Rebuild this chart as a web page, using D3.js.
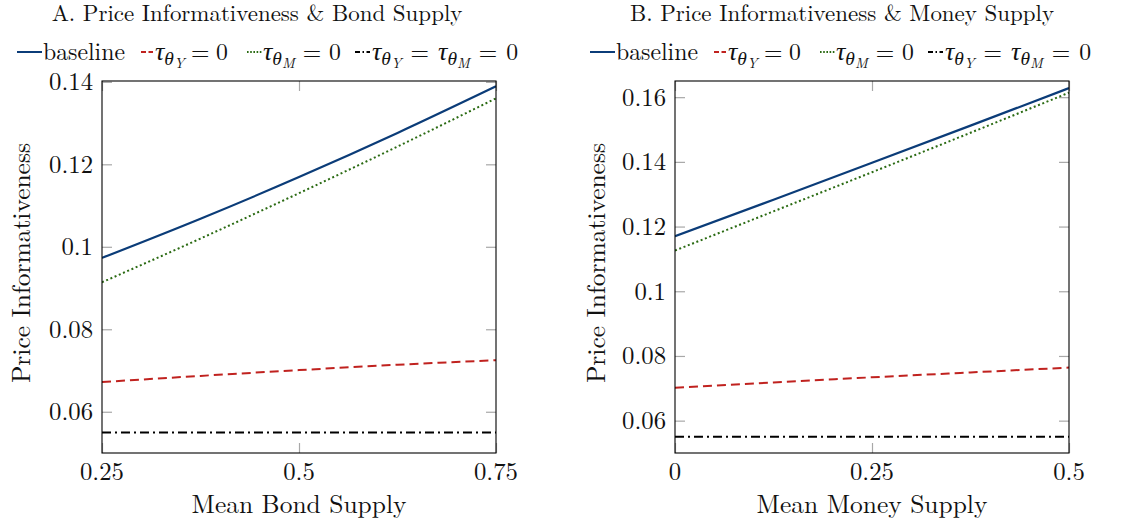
<!DOCTYPE html>
<html>
<head>
<meta charset="utf-8">
<script src="https://cdn.jsdelivr.net/npm/d3@7"></script>
<style>
  html, body { margin: 0; padding: 0; background: #fff; }
</style>
</head>
<body>
<svg id="chart" width="1128" height="524"></svg>
<script>
// ---- Panel A: price informativeness vs mean bond supply ----
const bondSupply      = [0.25, 0.375, 0.5, 0.625, 0.75];
const bondBaseline    = [0.0973, 0.1068, 0.1169, 0.1276, 0.1389];
const bondNoTauY      = [0.0672, 0.0687, 0.0701, 0.0714, 0.0725];
const bondNoTauM      = [0.0914, 0.1020, 0.1130, 0.1243, 0.1360];
const bondNoBoth      = [0.0550, 0.0550, 0.0550, 0.0550, 0.0550];
const bondXTicks      = [0.25, 0.5, 0.75];
const bondXTickLabels = ["0.25", "0.5", "0.75"];
const bondYTicks      = [0.06, 0.08, 0.10, 0.12, 0.14];
const bondYTickLabels = ["0.06", "0.08", "0.1", "0.12", "0.14"];

// ---- Panel B: price informativeness vs mean money supply ----
const moneySupply      = [0, 0.125, 0.25, 0.375, 0.5];
const moneyBaseline    = [0.1170, 0.1283, 0.1397, 0.1512, 0.1628];
const moneyNoTauY      = [0.0702, 0.0718, 0.0734, 0.0749, 0.0764];
const moneyNoTauM      = [0.1126, 0.1247, 0.1368, 0.1490, 0.1614];
const moneyNoBoth      = [0.0550, 0.0550, 0.0550, 0.0550, 0.0550];
const moneyXTicks      = [0, 0.25, 0.5];
const moneyXTickLabels = ["0", "0.25", "0.5"];
const moneyYTicks      = [0.06, 0.08, 0.10, 0.12, 0.14, 0.16];
const moneyYTickLabels = ["0.06", "0.08", "0.1", "0.12", "0.14", "0.16"];

const seriesStyles = [
  { key: "baseline", color: "#0b3c78", dash: null },
  { key: "tauY",     color: "#c0221f", dash: "9,5" },
  { key: "tauM",     color: "#2a6a12", dash: "2,2.6" },
  { key: "both",     color: "#000000", dash: "9,4,2,4" }
];

// pick the first installed serif face
const ctx = document.createElement("canvas").getContext("2d");
function installed(name) {
  const probe = "abcdefghijklmnopqrstuvwxyzABCDEFGHIJ0123456789";
  return ["monospace", "sans-serif"].some(base => {
    ctx.font = `40px ${base}`; const a = ctx.measureText(probe).width;
    ctx.font = `40px "${name}", ${base}`; const b = ctx.measureText(probe).width;
    return a !== b;
  });
}
const serifCandidates = ["Latin Modern Roman", "CMU Serif", "Liberation Serif", "DejaVu Serif",
  "Noto Serif", "Tinos", "Times New Roman", "Nimbus Roman", "FreeSerif", "Noto Serif CJK SC"];
const face = serifCandidates.find(installed);
const FF = face ? `"${face}", serif` : "serif";

// font size giving a string a set width in this face
function fitSize(str, width) {
  ctx.font = `100px ${FF}`;
  return 100 * width / ctx.measureText(str).width;
}
const FONT = fitSize("Mean Bond Supply", 215);
const TICK = fitSize("0.25", 44);
const TITLE = fitSize("A. Price Informativeness & Bond Supply", 411);
const LEG = fitSize("baseline", 82);

const svg = d3.select("#chart").attr("font-family", FF);

function txt(sel, size) {
  return sel.append("text").attr("font-family", FF).attr("font-size", size || FONT).attr("fill", "#111");
}

// legend math: tau_{theta_s} = ... = 0, relation spacing stretched to a set width
function mathEntry(g, x, y, subs, width) {
  const t = txt(g, LEG).attr("x", x).attr("y", y);
  const gaps = [];
  subs.forEach((s, i) => {
    const tt = t.append("tspan").attr("font-style", "italic").attr("font-size", LEG * 1.1).text("τ");
    if (i > 0) gaps.push(tt);
    t.append("tspan").attr("font-style", "italic").attr("font-size", LEG * 0.82).attr("dy", 5).text("θ");
    t.append("tspan").attr("font-style", "italic").attr("font-size", LEG * 0.6).attr("dy", 3).text(s);
    gaps.push(t.append("tspan").attr("font-size", LEG).attr("dy", -8).text("="));
  });
  gaps.push(t.append("tspan").text("0"));
  const natural = t.node().getComputedTextLength();
  const pad = Math.min(9, Math.max(0, (width - natural) / gaps.length));
  gaps.forEach(s => s.attr("dx", pad));
  return t;
}

function drawPanel(cfg) {
  const g = svg.append("g");
  const x = d3.scaleLinear().domain(cfg.xDomain).range([cfg.left, cfg.right]);
  const y = d3.scaleLinear().domain(cfg.yDomain).range([cfg.bottom, cfg.top]);

  // title
  txt(g, TITLE).attr("x", cfg.titleX).attr("y", 21).attr("text-anchor", "middle").text(cfg.title);

  // inward ticks on all four sides
  const tickLen = 10;
  const tickColor = "#a8a8a8";
  const axes = [
    d3.axisBottom(x).tickValues(cfg.xTicks).tickSizeInner(-tickLen).tickSizeOuter(0).tickFormat(""),
    d3.axisTop(x).tickValues(cfg.xTicks).tickSizeInner(-tickLen).tickSizeOuter(0).tickFormat(""),
    d3.axisLeft(y).tickValues(cfg.yTicks).tickSizeInner(-tickLen).tickSizeOuter(0).tickFormat(""),
    d3.axisRight(y).tickValues(cfg.yTicks).tickSizeInner(-tickLen).tickSizeOuter(0).tickFormat("")
  ];
  const shifts = [`translate(0,${cfg.bottom})`, `translate(0,${cfg.top})`,
                  `translate(${cfg.left},0)`, `translate(${cfg.right},0)`];
  axes.forEach((ax, i) => {
    const a = g.append("g").attr("transform", shifts[i]).call(ax);
    a.select(".domain").remove();
    a.selectAll(".tick line").attr("stroke", tickColor).attr("stroke-width", 1.2);
  });

  // tick labels
  g.append("g").selectAll("text").data(cfg.xTicks).join("text")
    .attr("font-family", FF).attr("font-size", TICK).attr("fill", "#111")
    .attr("x", d => x(d)).attr("y", cfg.bottom + 27).attr("text-anchor", "middle")
    .text((d, i) => cfg.xTickLabels[i]);
  g.append("g").selectAll("text").data(cfg.yTicks).join("text")
    .attr("font-family", FF).attr("font-size", TICK).attr("fill", "#111")
    .attr("x", cfg.left - 9).attr("y", d => y(d)).attr("dy", "0.34em").attr("text-anchor", "end")
    .text((d, i) => cfg.yTickLabels[i]);

  // axis labels
  txt(g).attr("x", (cfg.left + cfg.right) / 2).attr("y", 513).attr("text-anchor", "middle").text(cfg.xLabel);
  txt(g).attr("transform", `translate(${cfg.yLabelX},263) rotate(-90)`)
    .attr("text-anchor", "middle").text("Price Informativeness");

  // series
  const clipId = "clip-" + cfg.id;
  svg.append("clipPath").attr("id", clipId).append("rect")
    .attr("x", cfg.left).attr("y", cfg.top).attr("width", cfg.right - cfg.left).attr("height", cfg.bottom - cfg.top);
  const line = d3.line().x(d => x(d[0])).y(d => y(d[1])).curve(d3.curveMonotoneX);
  cfg.series.forEach((vals, i) => {
    const st = seriesStyles[i];
    g.append("path").attr("clip-path", `url(#${clipId})`)
      .datum(cfg.xs.map((xv, j) => [xv, vals[j]]))
      .attr("fill", "none").attr("stroke", st.color).attr("stroke-width", i === 0 ? 2.2 : 2)
      .attr("stroke-dasharray", st.dash).attr("d", line);
  });

  // frame
  g.append("rect").attr("x", cfg.left).attr("y", cfg.top)
    .attr("width", cfg.right - cfg.left).attr("height", cfg.bottom - cfg.top)
    .attr("fill", "none").attr("stroke", "#000").attr("stroke-width", 1.1);

  // legend
  const ly = 60;
  const o = cfg.legendX;
  const sample = (x0, x1, st) => g.append("line").attr("x1", o + x0).attr("x2", o + x1)
    .attr("y1", ly - 8).attr("y2", ly - 8)
    .attr("stroke", st.color).attr("stroke-width", 2).attr("stroke-dasharray", st.dash);

  sample(0, 25, seriesStyles[0]);
  txt(g, LEG).attr("x", o + 26).attr("y", ly).text("baseline");

  sample(124, 136, { color: seriesStyles[1].color, dash: "5,2.5" });
  mathEntry(g, o + 138, ly, ["Y"], 73);

  sample(230, 245, { color: seriesStyles[2].color, dash: "1.6,1.6" });
  mathEntry(g, o + 246, ly, ["M"], 78);

  sample(338, 353, { color: seriesStyles[3].color, dash: "5,2.5,1.5,2.5" });
  mathEntry(g, o + 355, ly, ["Y", "M"], 163);
}

drawPanel({
  id: "a", title: "A. Price Informativeness & Bond Supply", titleX: 257,
  left: 102, right: 496, top: 81, bottom: 453,
  xDomain: [0.25, 0.75], yDomain: [0.05, 0.1402],
  xs: bondSupply, series: [bondBaseline, bondNoTauY, bondNoTauM, bondNoBoth],
  xTicks: bondXTicks, xTickLabels: bondXTickLabels,
  yTicks: bondYTicks, yTickLabels: bondYTickLabels,
  xLabel: "Mean Bond Supply", yLabelX: 30, legendX: 17
});

drawPanel({
  id: "b", title: "B. Price Informativeness & Money Supply", titleX: 842,
  left: 675, right: 1069, top: 81, bottom: 453,
  xDomain: [0, 0.5], yDomain: [0.05, 0.165],
  xs: moneySupply, series: [moneyBaseline, moneyNoTauY, moneyNoTauM, moneyNoBoth],
  xTicks: moneyXTicks, xTickLabels: moneyXTickLabels,
  yTicks: moneyYTicks, yTickLabels: moneyYTickLabels,
  xLabel: "Mean Money Supply", yLabelX: 605, legendX: 590
});
</script>
</body>
</html>
